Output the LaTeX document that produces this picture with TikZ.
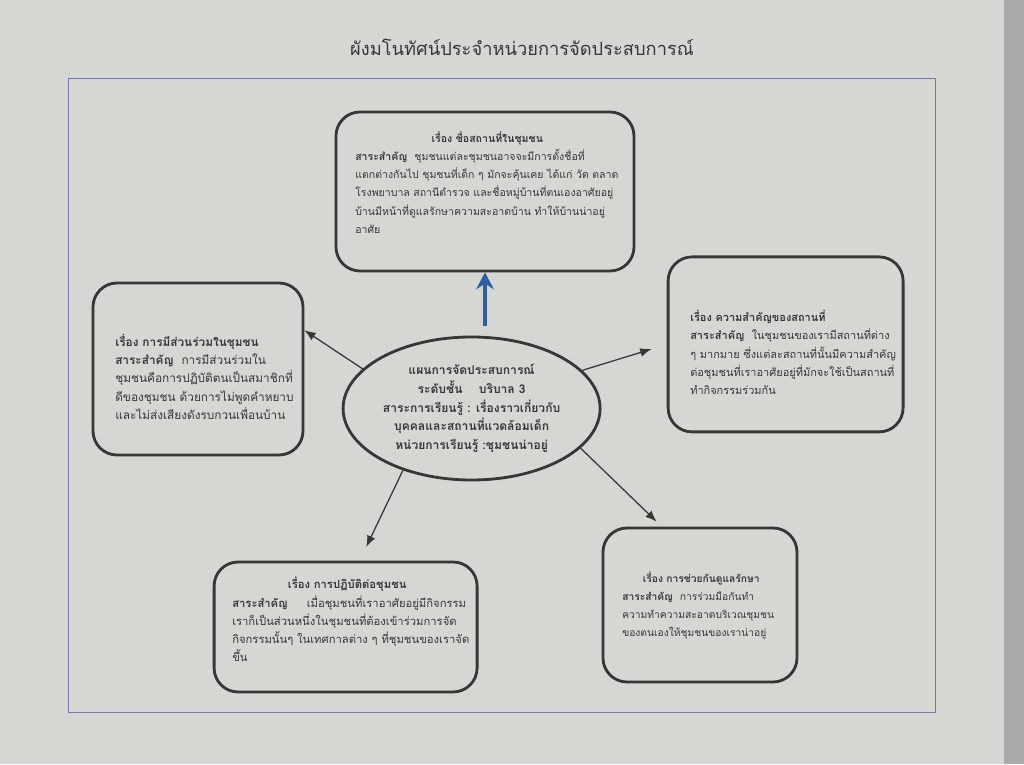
\documentclass[tikz,border=0pt]{standalone}
\usepackage{fontspec}
\newfontfamily\thaifont[Script=Thai]{Loma}
\usepackage{tikz}
\usetikzlibrary{arrows.meta}
\usetikzlibrary{shapes.geometric}

\definecolor{paper}{RGB}{214,214,210}
\definecolor{paperedge}{RGB}{170,170,168}
\definecolor{ink}{RGB}{55,55,55}
\definecolor{frameline}{RGB}{118,122,160}
\definecolor{arrowblue}{RGB}{45,95,165}

\begin{document}
\begin{tikzpicture}[
    box/.style={draw=ink, line width=2pt, rounded corners=0.6cm},
    txt/.style={anchor=north west, inner sep=0pt, align=left, text=ink,
      font=\thaifont\fontsize{#1}{13}\selectfont},
    txt/.default=8,
    link/.style={draw=ink, line width=0.9pt, -{Latex[length=2.8mm,width=2.2mm]}},
    uplink/.style={draw=arrowblue, line width=2.6pt, -{Stealth[length=4.2mm,width=4.4mm,inset=1.4mm]}}
  ] %%%{{{
     \useasboundingbox (0,0) rectangle (25.6,19.1);
     \fill[paper] (0,0) rectangle (25.6,19.1);
     \fill[paperedge] (25.1,0) rectangle (25.6,19.1);
     \draw[frameline, line width=0.6pt] (1.7,1.3) rectangle (23.375,17.15);

     \node[text=ink, font=\thaifont\fontsize{13}{16}\selectfont] (title) at (13.05,17.925)
        {ผังมโนทัศน์ประจำหน่วยการจัดประสบการณ์};

     % boxes
     \node[box, minimum width=7.45cm, minimum height=3.975cm] (top) at (12.125,14.3125) {};
     \node[box, minimum width=5.25cm, minimum height=4.3cm] (left) at (4.95,9.875) {};
     \node[box, minimum width=5.875cm, minimum height=4.375cm] (right) at (19.64,10.49) {};
     \node[box, minimum width=6.575cm, minimum height=3.25cm] (botleft) at (8.64,3.425) {};
     \node[box, minimum width=4.85cm, minimum height=3.85cm] (botright) at (17.5,3.975) {};
     \node[draw=ink, line width=2pt, ellipse, inner sep=0pt, minimum width=6.425cm, minimum height=3.575cm,
        align=center, text=ink, font=\thaifont\bfseries\fontsize{8.6}{13.3}\selectfont] (plan) at (11.79,8.8875)
        {แผนการจัดประสบการณ์\\
         ระดับชั้น~~~~บริบาล 3\\
         สาระการเรียนรู้ : เรื่องราวเกี่ยวกับ\\
         บุคคลและสถานที่แวดล้อมเด็ก\\
         หน่วยการเรียนรู้ :ชุมชนน่าอยู่};

     % texts
     \node[txt=7.5] (topT) at (8.875,15.825)
        {\makebox[6.6cm]{\bfseries เรื่อง ชื่อสถานที่ในชุมชน}\\
         \textbf{สาระสำคัญ}~~ชุมชนแต่ละชุมชนอาจจะมีการตั้งชื่อที่\\
         แตกต่างกันไป ชุมชนที่เด็ก ๆ มักจะคุ้นเคย ได้แก่ วัด ตลาด\\
         โรงพยาบาล สถานีตำรวจ และชื่อหมู่บ้านที่ตนเองอาศัยอยู่\\
         บ้านมีหน้าที่ดูแลรักษาความสะอาดบ้าน ทำให้บ้านน่าอยู่\\
         อาศัย};
     \node[txt=8.4] (leftT) at (2.875,10.75)
        {\textbf{เรื่อง การมีส่วนร่วมในชุมชน}\\
         \textbf{สาระสำคัญ}~~การมีส่วนร่วมใน\\
         ชุมชนคือการปฏิบัติตนเป็นสมาชิกที่\\
         ดีของชุมชน ด้วยการไม่พูดคำหยาบ\\
         และไม่ส่งเสียงดังรบกวนเพื่อนบ้าน};
     \node[txt=7.8] (rightT) at (17.25,11.35)
        {\textbf{เรื่อง ความสำคัญของสถานที่}\\
         \textbf{สาระสำคัญ}~~ในชุมชนของเรามีสถานที่ต่าง\\
         ๆ มากมาย ซึ่งแต่ละสถานที่นั้นมีความสำคัญ\\
         ต่อชุมชนที่เราอาศัยอยู่ที่มักจะใช้เป็นสถานที่\\
         ทำกิจกรรมร่วมกัน};
     \node[txt] (botleftT) at (5.8,4.675)
        {\makebox[5.75cm]{\bfseries เรื่อง การปฏิบัติต่อชุมชน}\\
         \textbf{สาระสำคัญ}~~~~~เมื่อชุมชนที่เราอาศัยอยู่มีกิจกรรม\\
         เราก็เป็นส่วนหนึ่งในชุมชนที่ต้องเข้าร่วมการจัด\\
         กิจกรรมนั้นๆ ในเทศกาลต่าง ๆ ที่ชุมชนของเราจัด\\
         ขึ้น};
     \node[txt=7.3] (botrightT) at (15.55,4.82)
        {\makebox[3.95cm]{\bfseries เรื่อง การช่วยกันดูแลรักษา}\\
         \textbf{สาระสำคัญ}~~การร่วมมือกันทำ\\
         ความทำความสะอาดบริเวณชุมชน\\
         ของตนเองให้ชุมชนของเราน่าอยู่};

     % arrows
     \draw[uplink, shorten <=0.25cm] (plan.north -| top.south) -- (top.south);
     \draw[link] (plan.160) -- (left.20);
     \draw[link, shorten >=0.4cm] (plan.19) -- (right.west);
     \draw[link, shorten >=0.38cm] (plan.222) -- (botleft.78);
     \draw[link, shorten >=0.18cm] (plan.340) -- (botright.116);
      \end{tikzpicture}
\end{document}
